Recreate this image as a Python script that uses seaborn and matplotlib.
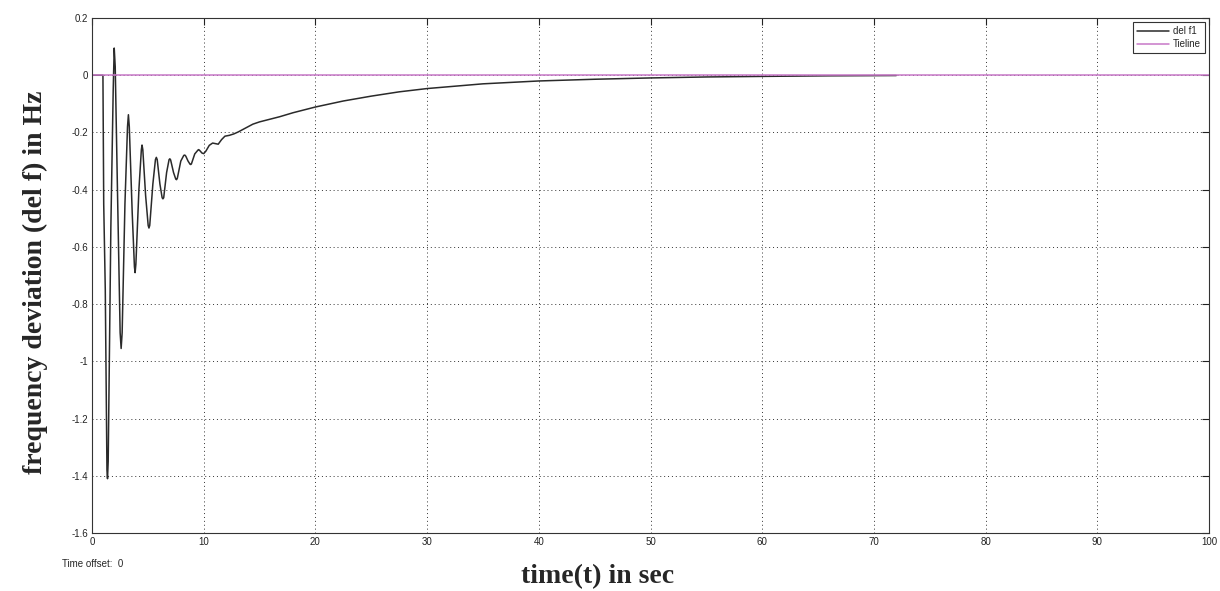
import pandas as pd
import matplotlib
matplotlib.use("Agg")
import matplotlib.pyplot as plt
import seaborn as sns

OUTPUT_FILE = "out.png"

# del f1 response
t_del_f1 = [0, 0.98, 1.05, 1.19, 1.34, 1.39, 1.45, 1.69, 1.9, 1.99, 2.08, 2.28,
            2.52, 2.61, 2.7, 2.95, 3.18, 3.26, 3.34, 3.6, 3.8, 3.86, 3.93, 4.2,
            4.42, 4.48, 4.55, 4.8, 5.03, 5.10, 5.17, 5.45, 5.68, 5.76, 5.84, 6.08,
            6.28, 6.35, 6.42, 6.68, 6.9, 6.97, 7.04, 7.3, 7.5, 7.57, 7.64, 7.95,
            8.22, 8.31, 8.4, 8.6, 8.78, 8.84, 8.9, 9.2, 9.5, 9.55, 9.62, 9.85,
            10.0, 10.2, 10.5, 10.8, 11.05, 11.3, 11.6, 11.9, 12.3, 12.7, 13.1,
            14.4, 15, 16.8, 18, 20, 22.5, 25, 27.5, 30, 35, 40, 45, 50, 55, 60, 66, 72]
del_f1 = [0, 0, -0.45, -0.75, -1.38, -1.41, -1.35, -0.53, -0.05, 0.095, 0.03, -0.40,
          -0.9, -0.955, -0.9, -0.45, -0.18, -0.138, -0.18, -0.48, -0.67, -0.69, -0.66, -0.40,
          -0.26, -0.244, -0.26, -0.42, -0.525, -0.534, -0.525, -0.38, -0.295, -0.287, -0.295, -0.38,
          -0.428, -0.432, -0.428, -0.34, -0.295, -0.292, -0.296, -0.34, -0.363, -0.365, -0.36, -0.30,
          -0.28, -0.279, -0.283, -0.30, -0.311, -0.312, -0.31, -0.275, -0.261, -0.26, -0.262, -0.272,
          -0.274, -0.265, -0.245, -0.237, -0.239, -0.241, -0.225, -0.213, -0.21, -0.205, -0.198,
          -0.171, -0.163, -0.145, -0.131, -0.111, -0.09, -0.073, -0.058, -0.0465, -0.03, -0.020,
          -0.014, -0.0094, -0.006, -0.004, -0.002, -0.001]

# tieline stays at zero over the whole run
t_tieline = [0, 100]
tieline = [0, 0]

x_ticks = [0, 10, 20, 30, 40, 50, 60, 70, 80, 90, 100]
y_ticks = [0.2, 0, -0.2, -0.4, -0.6, -0.8, -1, -1.2, -1.4, -1.6]
y_tick_labels = ["0.2", "0", "-0.2", "-0.4", "-0.6", "-0.8", "-1", "-1.2", "-1.4", "-1.6"]


def build_frame():
    df1 = pd.DataFrame({"time": t_del_f1, "value": del_f1, "signal": "del f1"})
    df2 = pd.DataFrame({"time": t_tieline, "value": tieline, "signal": "Tieline"})
    return pd.concat([df1, df2], ignore_index=True)


def create_plot(df):
    sns.set_style("white")
    plt.rcParams["font.family"] = ["Liberation Sans", "DejaVu Sans"]

    fig = plt.figure(figsize=(12.2, 5.91), dpi=100)
    ax = fig.add_axes([0.0754, 0.0981, 0.9156, 0.8714])

    sns.lineplot(data=df, x="time", y="value", hue="signal",
                 palette={"del f1": "#2a2a2a", "Tieline": "#c878c8"},
                 estimator=None, sort=False, linewidth=1.1, ax=ax)

    ax.set_xlim(0, 100)
    ax.set_ylim(-1.6, 0.2)
    ax.set_xticks(x_ticks)
    ax.set_xticklabels([str(v) for v in x_ticks])
    ax.set_yticks(y_ticks)
    ax.set_yticklabels(y_tick_labels)
    ax.tick_params(direction="in", length=5, width=0.8, labelsize=7,
                   top=True, right=True, colors="#222222", pad=3)
    ax.grid(True, linestyle=(0, (1, 3)), linewidth=0.7, color="#333333")
    for side in ax.spines.values():
        side.set_color("#333333")
        side.set_linewidth(0.8)

    ax.set_xlabel("")
    ax.set_ylabel("")
    fig.text(0.49, 0.024, "time(t) in sec", ha="center", va="center",
             fontsize=20, fontweight="bold", family="Liberation Serif")
    fig.text(0.0287, 0.523, "frequency deviation (del f) in Hz", ha="center",
             va="center", rotation=90, fontsize=20, fontweight="bold",
             family="Liberation Serif")
    fig.text(0.0508, 0.046, "Time offset:  0", ha="left", va="center", fontsize=7)

    leg = ax.legend(loc="upper right", fontsize=7, handlelength=3.3,
                    fancybox=False, framealpha=1, edgecolor="#333333",
                    borderaxespad=0.45, borderpad=0.4, labelspacing=0.3,
                    handletextpad=0.4)
    leg.get_frame().set_linewidth(0.8)

    fig.savefig(OUTPUT_FILE, dpi=100)
    plt.close(fig)
    print(f"Saved {OUTPUT_FILE}")


def main():
    df = build_frame()
    create_plot(df)


if __name__ == "__main__":
    main()
